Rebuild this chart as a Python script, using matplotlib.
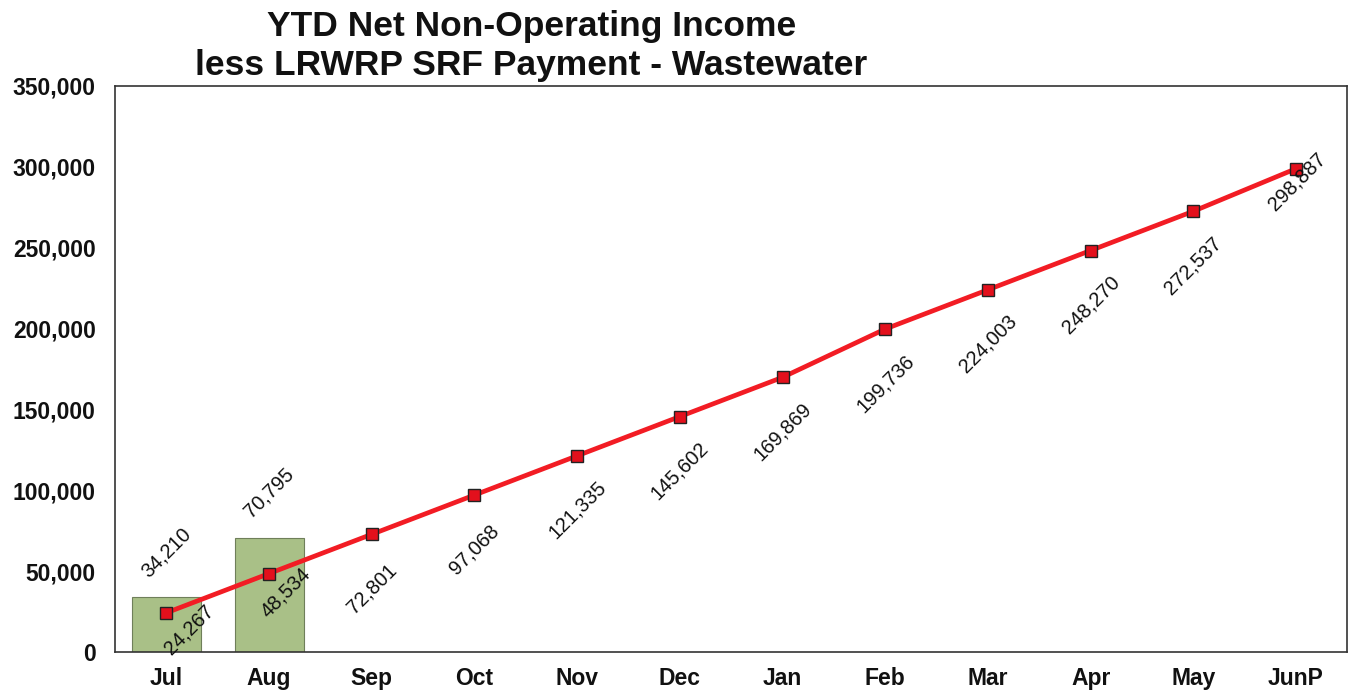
import matplotlib
matplotlib.use("Agg")
import matplotlib.pyplot as plt
from matplotlib.ticker import FuncFormatter

plt.rcParams['font.family'] = ['Liberation Sans', 'DejaVu Sans']

months = ['Jul', 'Aug', 'Sep', 'Oct', 'Nov', 'Dec', 'Jan', 'Feb', 'Mar', 'Apr', 'May', 'JunP']
ytd_actual = [34210, 70795]
ytd_budget = [24267, 48534, 72801, 97068, 121335, 145602, 169869, 199736,
              224003, 248270, 272537, 298887]

# label offsets (points) for the line labels; Excel nudged the edge ones
line_label_offsets = [(16, -12), (12, -14)] + [(0, -39)] * 9 + [(1, -9)]

fig = plt.figure(figsize=(13.49, 6.94), dpi=100)
ax = fig.add_axes([0.0853, 0.0605, 0.9135, 0.8156])

x = range(len(months))
ax.bar(range(len(ytd_actual)), ytd_actual, width=0.67, color='#a9c087',
       edgecolor='#6f7f5a', linewidth=0.8, zorder=2)
ax.plot(x, ytd_budget, color='#f21c24', linewidth=3.4, marker='s',
        markersize=9, markerfacecolor='#e3101c', markeredgecolor='#222222',
        markeredgewidth=1.0, zorder=3)

# bar labels above bars
for i, v in enumerate(ytd_actual):
    ax.annotate(f'{v:,}', (i, v), xytext=(0, 32), textcoords='offset points',
                rotation=45, ha='center', va='center', fontsize=14.5, color='#111111')

# line labels below points
for i, v in enumerate(ytd_budget):
    ax.annotate(f'{v:,}', (i, v), xytext=line_label_offsets[i], textcoords='offset points',
                rotation=45, ha='center', va='center', fontsize=14.5, color='#111111',
                zorder=4)

ax.set_xlim(-0.5, len(months) - 0.5)
ax.set_ylim(0, 350000)
ax.set_yticks(range(0, 350001, 50000))
ax.yaxis.set_major_formatter(FuncFormatter(lambda v, p: f'{int(v):,}'))
ax.set_xticks(list(x))
ax.set_xticklabels(months)
ax.tick_params(length=0, labelsize=16.5, colors='#111111')
ax.tick_params(axis='x', pad=11)
ax.tick_params(axis='y', pad=14)
for lbl in ax.get_xticklabels() + ax.get_yticklabels():
    lbl.set_fontweight('bold')
for s in ax.spines.values():
    s.set_color('#333333')
    s.set_linewidth(1.2)

fig.text(0.394, 0.985, 'YTD Net Non-Operating Income\nless LRWRP SRF Payment - Wastewater',
         ha='center', va='top', fontsize=25.5, fontweight='bold', color='#111111',
         linespacing=1.2)

fig.savefig('out.png', dpi=100, facecolor='white')
